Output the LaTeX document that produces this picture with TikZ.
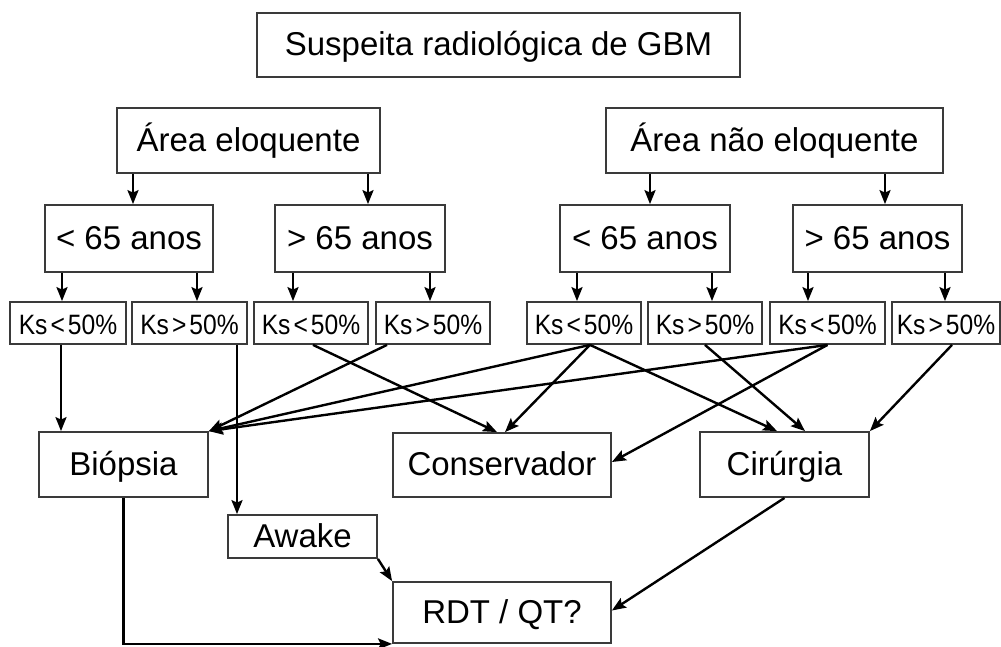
\documentclass[tikz,border=0pt]{standalone}
\usepackage{fontspec}
\setmainfont{Liberation Sans}
\newfontfamily\ksfamily[FakeStretch=0.88]{Liberation Sans}
\usetikzlibrary{arrows.meta}
\definecolor{boxgray}{HTML}{3a3a3a}
\newcommand\bigfnt{\fontsize{33}{38}\selectfont}
\newcommand\ksfnt{\ksfamily\fontsize{28}{32}\selectfont\spaceskip=3pt\relax}
\begin{document}
\begin{tikzpicture}[x=1pt,y=-1pt,
  box/.style={draw=boxgray,line width=1.8pt,inner sep=0pt,font=\bigfnt,text height=24pt,text depth=3pt},
  ksbox/.style={draw=boxgray,line width=1.8pt,inner sep=0pt,font=\ksfnt,text height=22pt,text depth=0pt,minimum height=42pt},
  arr/.style={line width=2.4pt,-{Stealth[length=14pt,width=11pt,inset=2.5pt]}}]
\path[use as bounding box, fill=white] (0,0) rectangle (1001,646);
% top
\node[box,minimum width=483pt,minimum height=64pt] (top) at (498.5,45) {Suspeita radiológica de GBM};
% level 1
\node[box,minimum width=263pt,minimum height=65pt] (ae) at (248.5,140.5) {Área eloquente};
\node[box,minimum width=337pt,minimum height=65pt] (ane) at (774.5,140.5) {Área não eloquente};
% level 2
\node[box,minimum width=168pt,minimum height=67pt] (a1) at (129,238.5) {< 65 anos};
\node[box,minimum width=170pt,minimum height=67pt] (a2) at (360,238.5) {> 65 anos};
\node[box,minimum width=170pt,minimum height=67pt] (a3) at (645,238.5) {< 65 anos};
\node[box,minimum width=169pt,minimum height=67pt] (a4) at (877.5,238.5) {> 65 anos};
% level 3
\node[ksbox,minimum width=116pt] (k1) at (68,323) {Ks < 50\%};
\node[ksbox,minimum width=115pt] (k2) at (189.5,323) {Ks > 50\%};
\node[ksbox,minimum width=114pt] (k3) at (311,323) {Ks < 50\%};
\node[ksbox,minimum width=114pt] (k4) at (433,323) {Ks > 50\%};
\node[ksbox,minimum width=114pt] (k5) at (584,323) {Ks < 50\%};
\node[ksbox,minimum width=114pt] (k6) at (705,323) {Ks > 50\%};
\node[ksbox,minimum width=115pt] (k7) at (827.5,323) {Ks < 50\%};
\node[ksbox,minimum width=108pt] (k8) at (946,323) {Ks > 50\%};
% outcomes
\node[box,minimum width=169pt,minimum height=65pt] (bio) at (123.5,464.5) {Biópsia};
\node[box,minimum width=218pt,minimum height=64pt] (cons) at (502,465) {Conservador};
\node[box,minimum width=169pt,minimum height=65pt] (cir) at (784.5,464.5) {Cirúrgia};
\node[box,minimum width=149pt,minimum height=43pt] (awake) at (302.5,536.5) {Awake};
\node[box,minimum width=218pt,minimum height=61pt] (rdt) at (502,612.5) {RDT / QT?};
% vertical tree arrows
\foreach \p/\c/\x in {ae/a1/133, ae/a2/368, ane/a3/650, ane/a4/885,
  a1/k1/62, a1/k2/197, a2/k3/293, a2/k4/430,
  a3/k5/577, a3/k6/712, a4/k7/808, a4/k8/945}{
  \coordinate (tmpx) at (\x,0);
  \draw[arr] (\p.south -| tmpx) -- (\c.north -| tmpx);
}
% helper x positions
\coordinate (x61) at (61,0);
\coordinate (x237) at (237,0);
\coordinate (x313) at (313,0);
\coordinate (x387) at (387,0);
\coordinate (x590) at (590,0);
\coordinate (x777) at (777,0);
\coordinate (x805) at (805,0);
\coordinate (x952) at (952,0);
% Ks -> outcomes
\draw[arr] (k1.south -| x61) -- (bio.north -| x61);
\draw[arr] (k2.south -| x237) -- (awake.north -| x237);
\draw[arr] (k3.south -| x313) -- ([xshift=-5pt]cons.north);
\draw[arr] (k4.south -| x387) -- (bio.north east);
\draw[arr] (k5.south -| x590) -- (bio.north east);
\draw[arr] (k5.south -| x590) -- ([xshift=3pt]cons.north);
\draw[arr] (k5.south -| x590) -- (cir.north -| x777);
\draw[arr] (k6.south) -- (cir.north -| x805);
\draw[arr] (k7.south) -- (bio.north east);
\draw[arr] (k7.south) -- ([yshift=3pt]cons.east);
\draw[arr] (k8.south -| x952) -- (cir.north east);
% to RDT / QT?
\draw[arr] (bio.south) |- (rdt.south west);
\draw[arr] (awake.south east) -- (rdt.north west);
\draw[arr] (cir.south) -- ([yshift=2pt]rdt.east);
\end{tikzpicture}
\end{document}
